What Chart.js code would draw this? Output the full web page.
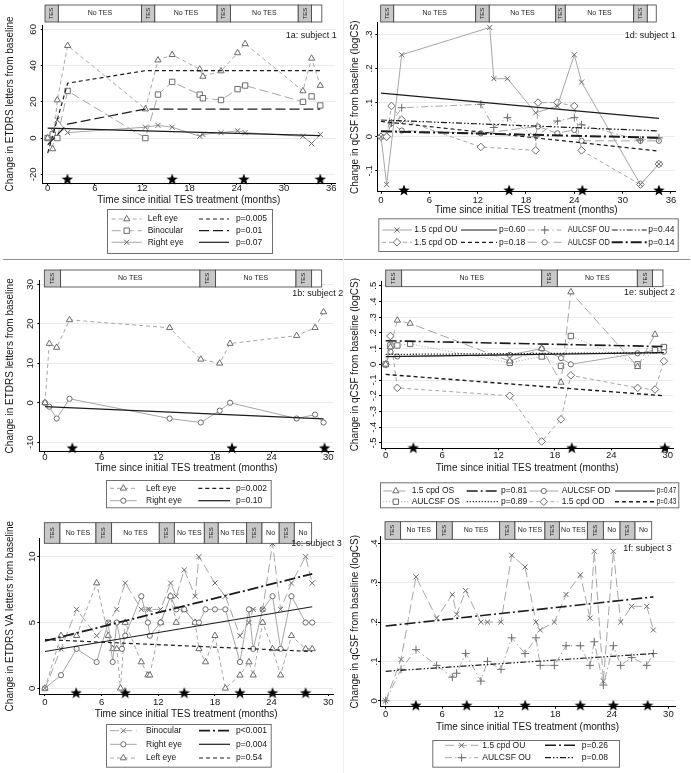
<!DOCTYPE html>
<html>
<head>
<meta charset="utf-8">
<title>TES follow-up: visual acuity and qCSF, subjects 1-3</title>
<script src="https://cdn.jsdelivr.net/npm/chart.js@4.4.1/dist/chart.umd.min.js"></script>
<style>
  html, body { margin: 0; padding: 0; background: #fff; }
  #page { position: relative; width: 691px; height: 773px; overflow: hidden; }
  #page canvas { position: absolute; }
  .rule { position: absolute; }
</style>
</head>
<body>
<div id="page">
  <div class="rule" style="left:3px;top:259px;width:687px;height:1px;background:#8c8c8c"></div>
  <div class="rule" style="left:343px;top:0;width:1px;height:773px;background:#f0f0f0"></div>
</div>
<script>
// ---- shared ticks ----
const xTicks36 = [0, 6, 12, 18, 24, 30, 36];
const xTicks30 = [0, 6, 12, 18, 24, 30];
const s1_tesLabels = ['TES', 'No TES', 'TES', 'No TES', 'TES', 'No TES', 'TES', ''];
const s2_tesLabels = ['TES', 'No TES', 'TES', 'No TES', 'TES', ''];
const s3_tesLabels = ['TES', 'No TES', 'TES', 'No TES', 'TES', 'No TES', 'TES', 'No TES', 'TES', 'No', 'TES', 'No'];

// ---- 1a: subject 1, ETDRS ----
const a_time  = [0, 0.63, 1.22, 2.53, 12.4, 14.0, 15.8, 19.3, 19.7, 22.0, 24.1, 25.06, 32.4, 33.5, 34.6];
const a_left  = [0, -6, 21, 51, 16, 43, 46, 38, 34, 37, 47, 52, 26, 44, 29];
const a_bino  = [0, 2, 0, 26, 0, 24, 31, 24, 22, 21, 27, 29, 20, 23, 18];
const a_right = [0, 4, 10, 3, 6, 7, 6, 1, 2, 3, 4, 3, 1, -3, 2];
const a_fitTime  = [0, 2.53, 12.4, 34.6];
const a_fitLeft  = [-8.3, 30.3, 37.2, 37.2];
const a_fitBino  = [-3.7, 7.7, 16, 16];
const a_fitRight = [5.5, 5.19, 3.99, 1.3];
const a_stars = [2.5, 15.8, 24.9, 34.6];
const a_starLevel = -22.6;
const a_tesEdges = [-0.34, 1.35, 11.9, 13.6, 21.5, 23.2, 31.8, 33.5, 34.8];
const a_yTicks = [-20, 0, 20, 40, 60];

// ---- 1d: subject 1, qCSF ----
const d_ouTime = [0, 0.7, 2.57, 13.5, 14.0, 15.7, 19.2, 21.9, 24.0, 24.9, 32.2, 34.5];
const d_cpdOU  = [0, -0.14, 0.24, 0.32, 0.17, 0.17, 0.07, 0.09, 0.24, 0.16, -0.14, -0.08];
const d_time   = [0, 0.7, 1.3, 2.57, 12.4, 14.0, 15.7, 19.2, 19.5, 21.9, 24.0, 24.9, 32.2, 34.5];
const d_cpdOD  = [0, 0, 0.09, 0.05, -0.03, null, null, -0.04, 0.10, 0.10, 0.09, -0.04, -0.14, -0.08];
const d_aulOU  = [0, 0, 0.04, 0.085, 0.095, 0.027, 0.056, 0.0, null, 0.046, 0.056, 0.035, -0.01, -0.003];
const d_aulOD  = [0, 0, 0.04, 0.018, 0.01, null, null, null, 0.03, 0.01, 0.02, -0.012, -0.012, -0.012];
const d_fitTime  = [0, 34.5];
const d_fitCpdOU = [0.128, 0.054];
const d_fitCpdOD = [0.045, -0.042];
const d_fitAulOU = [0.049, 0.017];
const d_fitAulOD = [0.016, -0.003];
const d_stars = [2.85, 15.9, 25.0, 34.5];
const d_starLevel = -0.156;
const d_tesEdges = [-0.04, 1.58, 11.76, 13.44, 21.69, 22.88, 31.37, 33.06, 34.17];
const d_yTicks = [-0.1, 0, 0.1, 0.2, 0.3];

// ---- 1b: subject 2, ETDRS ----
const b_time  = [0, 0.46, 1.24, 2.6, 13.2, 16.5, 18.5, 19.6, 26.65, 28.6, 29.5];
const b_left  = [0, 15, 14, 21, 19, 11, 10, 15, 17, 19, 23];
const b_right = [0, -1, -4, 1, -4, -5, -2, 0, -4, -3, -5];
const b_fitTime  = [0, 29.5];
const b_fitRight = [-1.0, -4.1];
const b_stars = [2.9, 19.8, 29.6];
const b_starLevel = -11.4;
const b_tesEdges = [-0.07, 1.66, 16.41, 18.07, 26.58, 28.24, 29.3];
const b_yTicks = [-10, 0, 10, 20, 30];

// ---- 1e: subject 2, qCSF ----
const e_time   = [0, 0.5, 1.24, 2.6, 13.2, 16.6, 18.65, 19.7, 26.8, 28.65, 29.6];
const e_cpdOS  = [0, 0.11, 0.28, 0.26, 0.02, 0.10, -0.115, 0.46, -0.015, 0.19, null];
const e_aulOS  = [0, 0.12, 0.12, 0.13, 0.01, 0.05, -0.01, 0.18, 0.0, 0.09, 0.11];
const e_aulOD  = [0, 0.08, 0.05, null, 0.06, 0.10, 0.04, 0.0, 0.07, 0.09, 0.08];
const e_cpdOD  = [0, 0.18, -0.15, null, -0.20, -0.49, -0.35, -0.07, -0.15, -0.16, 0.02];
const e_fitTime  = [0, 29.6];
const e_fitCpdOS = [0.15, 0.113];
const e_fitAulOS = [0.063, 0.074];
const e_fitAulOD = [0.049, 0.074];
const e_fitCpdOD = [-0.064, -0.2];
const e_stars = [2.94, 19.8, 29.7];
const e_starLevel = -0.53;
const e_tesEdges = [0, 1.70, 16.6, 18.26, 26.77, 28.4, 29.5];
const e_yTicks = [-0.5, -0.4, -0.3, -0.2, -0.1, 0, 0.1, 0.2, 0.3, 0.4, 0.5];

// ---- 1c: subject 3, ETDRS VA ----
const c_time  = [0, 1.7, 3.35, 5.47, 6.7, 7.17, 7.6, 8.0, 8.15, 8.5, 10.2, 10.9, 11.1, 12.25, 13.3, 13.9,
                 14.75, 15.9, 16.3, 17.0, 18.0, 19.1, 20.65, 21.6, 22.05, 23.05, 24.1, 24.95, 26.1, 27.6, 28.3];
const c_bino  = [0, 3, 6, 4, 5, null, 6, null, null, 8, 6, 6, 6, 6, 8, 7, 9, 7, 10, null, 8, 7, 4, 5, 6, 6, 11, 6, 8, 10, 8];
const c_right = [0, 1, 3, 2, 5, 2, 5, null, 3, 4, 7, 5, 4, 5, 7, 6, 6, 5, 5, 6, 6, 6, 2, 6, 3, 6, 7, 3, 7, 5, 5];
const c_left  = [0, 4, 4, 8, 4, 3, 3, 0, null, 5, 2, 1, 1, 5, 7, 5, 6, 5, 3, 2, 4, 0, 1, 2, 1, 5, 3, 1, 4, 3, 3];
const c_fitTime  = [0, 28.3];
const c_fitBino  = [3.6, 8.7];
const c_fitRight = [2.8, 6.2];
const c_fitLeft  = [3.7, 2.8];
const c_stars = [3.3, 8.5, 14.75, 20.65, 24.1, 27.6];
const c_starLevel = -0.33;
const c_tesEdges = [-0.07, 1.59, 5.4, 7.06, 12.1, 13.7, 16.87, 18.35, 21.36, 22.98, 24.8, 26.4, 28.24];
const c_yTicks = [0, 5, 10];

// ---- 1f: subject 3, qCSF ----
const f_time = [0, 1.63, 3.22, 5.41, 7.07, 7.53, 8.49, 10.1, 10.8, 12.24, 13.37, 14.79, 15.95, 16.4,
                17.9, 19.14, 20.66, 21.68, 22.14, 23.1, 24.16, 24.94, 26.1, 27.7, 28.4];
const f_cpdOU = [0, 0.105, 0.315, 0.21, 0.27, 0.22, 0.28, 0.20, 0.20, 0.20, 0.37, 0.34, 0.20, 0.18,
                 0.20, 0.27, 0.32, 0.21, 0.38, 0.05, 0.38, 0.20, 0.24, 0.24, 0.18];
const f_aulOU = [0, 0.08, 0.13, 0.09, 0.06, 0.07, 0.12, 0.05, 0.10, 0.08, 0.16, 0.12, 0.16, 0.09,
                 0.09, 0.14, 0.14, 0.09, 0.15, 0.04, 0.14, 0.09, 0.11, 0.09, 0.12];
const f_fitTime  = [0, 28.4];
const f_fitCpdOU = [0.19, 0.264];
const f_fitAulOU = [0.075, 0.12];
const f_stars = [3.2, 8.6, 14.8, 20.66, 24.16, 27.8];
const f_starLevel = -0.011;
const f_tesEdges = [-0.07, 1.59, 5.41, 7.07, 12.1, 13.72, 16.9, 18.43, 21.4, 23.1, 24.87, 26.46, 28.23];
const f_yTicks = [0, 0.1, 0.2, 0.3, 0.4];

// ---- styling ----
const FONT = '"Liberation Sans", Arial, Helvetica, sans-serif';
Chart.defaults.font.family = FONT;
Chart.defaults.font.size = 10;
Chart.defaults.color = '#161616';
Chart.defaults.animation = false;

const LINE_GRAY = '#a6a6a6', MARK_GRAY = '#6c6c6c', FIT_DARK = '#1c1c1c';
const DASH = {
  solid: [], dash: [4, 3], longdash: [9, 4], dot: [1, 2], dashdot: [7, 3, 1.5, 3],
  fitdash: [4, 3], fitlong: [10, 4], fitlongdot: [11, 3, 2, 3], fitddot: [6, 2, 1.5, 2, 1.5, 2], fitdot: [1.2, 1.8]
};
const X_TITLE = 'Time since initial TES treatment (months)';
const ETDRS_TITLE = 'Change in ETDRS letters from baseline';
const QCSF_TITLE = 'Change in qCSF from baseline (logCS)';

// filled 5-point star for the TES visit markers
const STAR = document.createElement('canvas');
STAR.width = 12; STAR.height = 12;
(function () {
  const g = STAR.getContext('2d');
  g.beginPath();
  for (let i = 0; i < 10; i++) {
    const r = i % 2 ? 2.5 : 6;
    const a = -Math.PI / 2 + i * Math.PI / 5;
    g.lineTo(6 + r * Math.cos(a), 6.6 + r * Math.sin(a));
  }
  g.closePath();
  g.fillStyle = '#000';
  g.fill();
})();

const plainFmt = v => String(v);
const stataFmt = v => v === 0 ? '0' : String(+v.toFixed(2)).replace('0.', '.');

function xy(t, v) {
  const out = [];
  t.forEach((x, i) => { if (v[i] !== null && v[i] !== undefined) out.push({ x, y: v[i] }); });
  return out;
}
function obs(label, t, v, dash, marker, r) {
  return { label, data: xy(t, v), showLine: true, borderColor: LINE_GRAY, borderWidth: 1, borderDash: dash,
    pointStyle: marker, pointRadius: r, pointBorderColor: MARK_GRAY, pointBackgroundColor: '#fff',
    pointBorderWidth: 1, order: 3 };
}
function fit(label, t, v, dash, w) {
  return { label, data: xy(t, v), showLine: true, borderColor: FIT_DARK, borderWidth: w || 1.2,
    borderDash: dash, pointRadius: 0, order: 2 };
}
function visits(t, level) {
  return { label: 'visit', data: t.map(x => ({ x, y: level })), showLine: false,
    pointStyle: STAR, pointRadius: 6, order: 1, clip: false };
}

function marker(ctx, style, x, y, r) {
  ctx.save();
  ctx.setLineDash([]); ctx.lineWidth = 1; ctx.strokeStyle = MARK_GRAY; ctx.fillStyle = '#fff';
  ctx.beginPath();
  if (style === 'triangle') {
    for (let k = 0; k < 3; k++) {
      const a = -Math.PI / 2 + k * 2 * Math.PI / 3;
      ctx.lineTo(x + r * Math.cos(a), y + r * Math.sin(a));
    }
    ctx.closePath(); ctx.fill(); ctx.stroke();
  } else if (style === 'rect') {
    const s = r * Math.SQRT1_2; ctx.rect(x - s, y - s, 2 * s, 2 * s); ctx.fill(); ctx.stroke();
  } else if (style === 'rectRot') {
    ctx.moveTo(x, y - r); ctx.lineTo(x + r, y); ctx.lineTo(x, y + r); ctx.lineTo(x - r, y);
    ctx.closePath(); ctx.fill(); ctx.stroke();
  } else if (style === 'circle') {
    ctx.arc(x, y, r, 0, 2 * Math.PI); ctx.fill(); ctx.stroke();
  } else if (style === 'crossRot') {
    const s = r * Math.SQRT1_2;
    ctx.moveTo(x - s, y - s); ctx.lineTo(x + s, y + s); ctx.moveTo(x - s, y + s); ctx.lineTo(x + s, y - s); ctx.stroke();
  } else if (style === 'cross') {
    ctx.moveTo(x - r, y); ctx.lineTo(x + r, y); ctx.moveTo(x, y - r); ctx.lineTo(x, y + r); ctx.stroke();
  }
  ctx.restore();
}

// TES strip, panel tag and legend box
function decor(P) {
  return {
    id: 'decor',
    afterDraw(chart) {
      const ctx = chart.ctx, xs = chart.scales.x;
      ctx.save();
      const T = P.tes;
      for (let i = 0; i < T.labels.length; i++) {
        const x0 = xs.getPixelForValue(T.edges[i]), x1 = xs.getPixelForValue(T.edges[i + 1]);
        const on = T.labels[i] === 'TES';
        ctx.fillStyle = on ? '#c8c8c8' : '#fff';
        ctx.fillRect(x0, T.top, x1 - x0, T.bottom - T.top);
        ctx.strokeStyle = '#3c3c3c'; ctx.lineWidth = 0.8;
        ctx.strokeRect(x0, T.top, x1 - x0, T.bottom - T.top);
        if (!T.labels[i]) continue;
        ctx.fillStyle = '#222'; ctx.textAlign = 'center'; ctx.textBaseline = 'middle';
        if (on) {
          ctx.save();
          ctx.translate((x0 + x1) / 2, (T.top + T.bottom) / 2);
          ctx.rotate(-Math.PI / 2);
          ctx.font = '6px ' + FONT;
          ctx.fillText('TES', 0, 0);
          ctx.restore();
        } else {
          ctx.font = '7px ' + FONT;
          ctx.fillText(T.labels[i], (x0 + x1) / 2, (T.top + T.bottom) / 2);
        }
      }
      // panel tag
      ctx.font = '9px ' + FONT; ctx.fillStyle = '#161616';
      ctx.textAlign = 'right'; ctx.textBaseline = 'middle';
      ctx.fillText(P.tag.text, P.tag.x, P.tag.y);
      // legend
      const L = P.legend, bx = L.box;
      ctx.fillStyle = '#fff'; ctx.fillRect(bx[0], bx[1], bx[2] - bx[0], bx[3] - bx[1]);
      ctx.strokeStyle = '#707070'; ctx.lineWidth = 1;
      ctx.strokeRect(bx[0] + 0.5, bx[1] + 0.5, bx[2] - bx[0], bx[3] - bx[1]);
      L.items.forEach((row, r) => row.forEach((name, c) => {
        const ds = chart.data.datasets.find(d => d.label === name);
        const [s0, s1, lx] = L.cols[c];
        const y = L.rows[r];
        const limit = (c + 1 < L.cols.length ? L.cols[c + 1][0] - 2 : bx[2] - 2) - lx;
        ctx.save();
        ctx.strokeStyle = ds.borderColor; ctx.lineWidth = ds.borderWidth;
        ctx.setLineDash(ds.borderDash || []);
        ctx.beginPath(); ctx.moveTo(s0, y); ctx.lineTo(s1, y); ctx.stroke();
        ctx.restore();
        if (ds.pointRadius) marker(ctx, ds.pointStyle, (s0 + s1) / 2, y, ds.pointRadius);
        ctx.fillStyle = '#161616'; ctx.textAlign = 'left'; ctx.textBaseline = 'middle';
        ctx.font = '8.5px ' + FONT;
        ctx.fillText(name, lx, y, limit);
      }));
      ctx.restore();
    }
  };
}

function build(P) {
  const cv = document.createElement('canvas');
  cv.width = P.frame[2]; cv.height = P.frame[3];
  cv.style.left = P.frame[0] + 'px'; cv.style.top = P.frame[1] + 'px';
  document.getElementById('page').appendChild(cv);
  const A = P.area, padL = 4;
  return new Chart(cv, {
    type: 'scatter',
    data: { datasets: P.datasets },
    options: {
      responsive: false,
      layout: { padding: { left: padL, top: A.t, right: P.frame[2] - A.r, bottom: P.frame[3] - A.b - P.xH } },
      plugins: { legend: { display: false }, tooltip: { enabled: false } },
      scales: {
        x: {
          type: 'linear', min: P.xRange[0], max: P.xRange[1],
          afterBuildTicks: s => { s.ticks = P.xTicks.map(v => ({ value: v })); },
          afterFit: s => { s.height = P.xH; },
          ticks: { font: { size: 9.5, lineHeight: 1 }, padding: P.xPad, maxRotation: 0, autoSkip: false, color: '#161616' },
          grid: { drawOnChartArea: false, tickLength: 2, tickColor: '#000' },
          border: { color: '#000', width: 1 },
          title: { display: true, text: X_TITLE, padding: 0, font: { size: 10 }, color: '#161616' }
        },
        y: {
          type: 'linear', min: P.yRange[0], max: P.yRange[1],
          afterBuildTicks: s => { s.ticks = P.yTicks.map(v => ({ value: v })); },
          afterFit: s => { s.width = A.l - padL; },
          ticks: { font: { size: 9.5, lineHeight: 1 }, minRotation: 90, maxRotation: 90, crossAlign: 'center',
                   padding: P.yPad, autoSkip: false, color: '#161616', callback: P.yFmt },
          grid: { color: '#e8ecee', lineWidth: 1, tickLength: 2, tickColor: '#000' },
          border: { color: '#000', width: 1 },
          title: { display: true, text: P.yTitle, padding: 0, font: { size: 10 }, color: '#161616' }
        }
      }
    },
    plugins: [decor(P)]
  });
}

const panels = [
  { // 1a
    frame: [0, 0, 345, 258], area: { l: 42.7, r: 335, t: 25, b: 183 }, xH: 23, xPad: -1.6, yPad: 0,
    xRange: [-0.635, 36.47], yRange: [-24.8, 62.4], xTicks: xTicks36, yTicks: a_yTicks, yFmt: plainFmt,
    yTitle: ETDRS_TITLE,
    datasets: [
      visits(a_stars, a_starLevel),
      fit('p=0.005', a_fitTime, a_fitLeft, DASH.fitdash),
      fit('p=0.01', a_fitTime, a_fitBino, DASH.fitlong),
      fit('p=0.07', a_fitTime, a_fitRight, DASH.solid),
      obs('Left eye', a_time, a_left, DASH.dash, 'triangle', 3.6),
      obs('Binocular', a_time, a_bino, DASH.longdash, 'rect', 3.8),
      obs('Right eye', a_time, a_right, DASH.solid, 'crossRot', 3.6)
    ],
    tes: { edges: a_tesEdges, labels: s1_tesLabels, top: 5, bottom: 22 },
    tag: { text: '1a: subject 1', x: 336.7, y: 36 },
    legend: { box: [107, 209, 272, 253], rows: [219, 230.7, 242.3],
      cols: [[111.7, 141.7, 147.7], [199, 229, 236]],
      items: [['Left eye', 'p=0.005'], ['Binocular', 'p=0.01'], ['Right eye', 'p=0.07']] }
  },
  { // 1d
    frame: [345, 0, 346, 258], area: { l: 32.3, r: 330, t: 22.7, b: 191.7 }, xH: 25, xPad: 1.8, yPad: 0,
    xRange: [-0.46, 36.5], yRange: [-0.161, 0.334], xTicks: xTicks36, yTicks: d_yTicks, yFmt: stataFmt,
    yTitle: QCSF_TITLE,
    datasets: [
      visits(d_stars, d_starLevel),
      fit('p=0.60', d_fitTime, d_fitCpdOU, DASH.solid),
      fit('p=0.18', d_fitTime, d_fitCpdOD, DASH.fitdash),
      fit('p=0.44', d_fitTime, d_fitAulOU, DASH.fitddot),
      fit('p=0.14', d_fitTime, d_fitAulOD, DASH.fitlongdot, 2),
      obs('1.5 cpd OU', d_ouTime, d_cpdOU, DASH.solid, 'crossRot', 3.6),
      obs('1.5 cpd OD', d_time, d_cpdOD, DASH.dash, 'rectRot', 3.8),
      obs('AULCSF OU', d_time, d_aulOU, DASH.dashdot, 'cross', 4),
      obs('AULCSF OD', d_time, d_aulOD, DASH.longdash, 'circle', 2.6)
    ],
    tes: { edges: d_tesEdges, labels: s1_tesLabels, top: 5, bottom: 22 },
    tag: { text: '1d: subject 1', x: 330.7, y: 36 },
    legend: { box: [33.3, 218.3, 332.7, 251], rows: [230, 242.3],
      cols: [[37, 67, 69.3], [116, 152, 154], [182.7, 216.7, 222.7], [266.7, 301.7, 303.3]],
      items: [['1.5 cpd OU', 'p=0.60', 'AULCSF OU', 'p=0.44'], ['1.5 cpd OD', 'p=0.18', 'AULCSF OD', 'p=0.14']] }
  },
  { // 1b
    frame: [0, 260, 345, 250], area: { l: 39.3, r: 333, t: 20, b: 191.7 }, xH: 22.6, xPad: -1, yPad: 0,
    xRange: [-0.6, 30.5], yRange: [-12.4, 31.1], xTicks: xTicks30, yTicks: b_yTicks, yFmt: plainFmt,
    yTitle: ETDRS_TITLE,
    datasets: [
      visits(b_stars, b_starLevel),
      fit('p=0.002', [], [], DASH.fitdash),
      fit('p=0.10', b_fitTime, b_fitRight, DASH.solid),
      obs('Left eye', b_time, b_left, DASH.dash, 'triangle', 3.6),
      obs('Right eye', b_time, b_right, DASH.solid, 'circle', 2.6)
    ],
    tes: { edges: b_tesEdges, labels: s2_tesLabels, top: 10, bottom: 27 },
    tag: { text: '1b: subject 2', x: 343.3, y: 33.3 },
    legend: { box: [106, 220, 270.7, 247.3], rows: [228.3, 240.7],
      cols: [[110, 136.7, 146], [198.3, 230, 236]],
      items: [['Left eye', 'p=0.002'], ['Right eye', 'p=0.10']] }
  },
  { // 1e
    frame: [345, 260, 346, 250], area: { l: 36, r: 328.3, t: 21, b: 188.3 }, xH: 26, xPad: 0, yPad: 0,
    xRange: [-0.5, 30.6], yRange: [-0.534, 0.53], xTicks: xTicks30, yTicks: e_yTicks, yFmt: stataFmt,
    yTitle: QCSF_TITLE,
    datasets: [
      visits(e_stars, e_starLevel),
      fit('p=0.81', e_fitTime, e_fitCpdOS, DASH.fitlongdot, 1.6),
      fit('p=0.89', e_fitTime, e_fitAulOS, DASH.fitdot, 1.3),
      fit('p=0.47', e_fitTime, e_fitAulOD, DASH.solid),
      fit('p=0.43', e_fitTime, e_fitCpdOD, DASH.fitdash, 1.4),
      obs('1.5 cpd OS', e_time, e_cpdOS, DASH.longdash, 'triangle', 3.6),
      obs('AULCSF OS', e_time, e_aulOS, DASH.dot, 'rect', 3.8),
      obs('AULCSF OD', e_time, e_aulOD, DASH.solid, 'circle', 2.6),
      obs('1.5 cpd OD', e_time, e_cpdOD, DASH.dash, 'rectRot', 3.8)
    ],
    tes: { edges: e_tesEdges, labels: s2_tesLabels, top: 10, bottom: 26.7 },
    tag: { text: '1e: subject 2', x: 330, y: 32.3 },
    legend: { box: [35, 222.3, 333.3, 247.3], rows: [231, 241.7],
      cols: [[38.3, 63.3, 66.7], [121.7, 153.3, 156], [184.3, 213.3, 216.7], [270, 310, 311.7]],
      items: [['1.5 cpd OS', 'p=0.81', 'AULCSF OD', 'p=0.47'], ['AULCSF OS', 'p=0.89', '1.5 cpd OD', 'p=0.43']] }
  },
  { // 1c
    frame: [0, 512, 345, 261], area: { l: 39.3, r: 333, t: 26.3, b: 182 }, xH: 26, xPad: 1.9, yPad: 0,
    xRange: [-0.6, 30.5], yRange: [-0.43, 11.4], xTicks: xTicks30, yTicks: c_yTicks, yFmt: plainFmt,
    yTitle: 'Change in ETDRS VA letters from baseline',
    datasets: [
      visits(c_stars, c_starLevel),
      fit('p<0.001', c_fitTime, c_fitBino, DASH.fitlongdot, 1.8),
      fit('p=0.004', c_fitTime, c_fitRight, DASH.solid),
      fit('p=0.54', c_fitTime, c_fitLeft, DASH.fitdash),
      obs('Binocular', c_time, c_bino, DASH.longdash, 'crossRot', 3.6),
      obs('Right eye', c_time, c_right, DASH.solid, 'circle', 2.6),
      obs('Left eye', c_time, c_left, DASH.dash, 'triangle', 3.6)
    ],
    tes: { edges: c_tesEdges, labels: s3_tesLabels, top: 10.7, bottom: 31.3 },
    tag: { text: '1c: subject 3', x: 341.7, y: 32 },
    legend: { box: [106, 212, 270.7, 254.7], rows: [218.7, 232.3, 246],
      cols: [[110, 136.7, 146], [199, 230, 236]],
      items: [['Binocular', 'p<0.001'], ['Right eye', 'p=0.004'], ['Left eye', 'p=0.54']] }
  },
  { // 1f
    frame: [345, 512, 346, 261], area: { l: 35, r: 330, t: 24.7, b: 194.7 }, xH: 26.6, xPad: 0.5, yPad: 0,
    xRange: [-0.6, 30.7], yRange: [-0.015, 0.417], xTicks: xTicks30, yTicks: f_yTicks, yFmt: stataFmt,
    yTitle: QCSF_TITLE,
    datasets: [
      visits(f_stars, f_starLevel),
      fit('p=0.26', f_fitTime, f_fitCpdOU, DASH.fitlongdot, 1.6),
      fit('p=0.08', f_fitTime, f_fitAulOU, DASH.fitddot),
      obs('1.5 cpd OU', f_time, f_cpdOU, DASH.longdash, 'crossRot', 3.6),
      obs('AULCSF OU', f_time, f_aulOU, DASH.dashdot, 'cross', 4)
    ],
    tes: { edges: f_tesEdges, labels: s3_tesLabels, top: 9.7, bottom: 27.3 },
    tag: { text: '1f: subject 3', x: 326.7, y: 36.3 },
    legend: { box: [87.3, 228, 274, 254.7], rows: [233.3, 245.7],
      cols: [[100, 133.3, 137.3], [200, 230, 236.7]],
      items: [['1.5 cpd OU', 'p=0.26'], ['AULCSF OU', 'p=0.08']] }
  }
];

panels.forEach(build);
</script>
</body>
</html>
